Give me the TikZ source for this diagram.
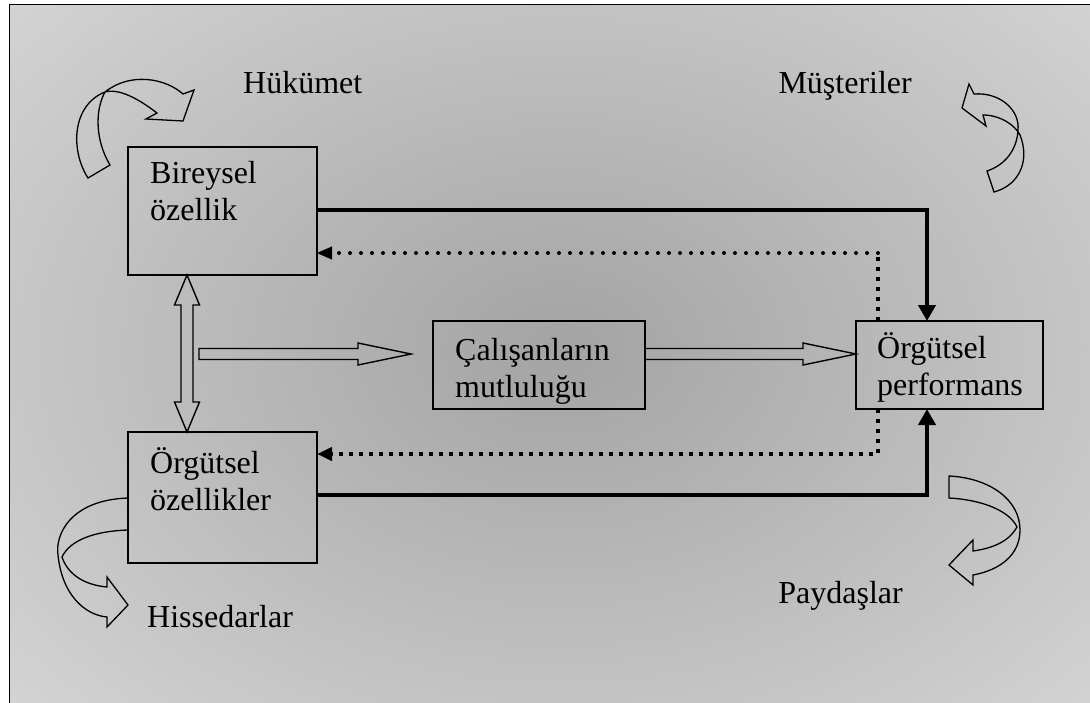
\documentclass[tikz,border=0pt]{standalone}
\usepackage{fontspec}
\setmainfont{Liberation Serif}
\usetikzlibrary{arrows.meta,calc}
\definecolor{zemin}{RGB}{218,218,218}
\definecolor{orta}{RGB}{163,163,163}
\tikzset{
  kutu/.style={draw, line width=1.8pt, inner sep=0pt, outer sep=0pt},
  yazi/.style={font=\fontsize{32}{37}\selectfont, inner sep=0pt, anchor=base west, align=left},
  kalin/.style={line width=4.5pt, -{Triangle[length=16pt,width=17pt]}},
  yuvarlak/.style={line width=4pt, line cap=round, dash pattern=on 0pt off 11pt},
  kare/.style={line width=4pt, dash pattern=on 4pt off 6pt},
  ucu/.style={-{Triangle[length=15pt,width=13pt]}},
  oklu/.style={draw, line width=1.4pt, line join=miter},
  egri/.style={draw, line width=1.3pt, line join=miter}
}
\begin{document}
\begin{tikzpicture}[x=1pt,y=-1pt]
\useasboundingbox (0,0) rectangle (1090,702);
\fill[white] (0,0) rectangle (1090,702);
\begin{scope}
  \clip (9.5,4.5) rectangle (1095,710);
  \fill[zemin] (9.5,4.5) rectangle (1095,710);
  \shade[inner color=orta, outer color=zemin] (-280,-250) rectangle (1400,950);
\end{scope}
\draw[line width=1.5pt] (9.5,710) -- (9.5,4.5) -- (1095,4.5);

% kutular
\node[kutu, minimum width=189, minimum height=128] (bir) at (222.5,211) {};
\node[kutu, minimum width=189, minimum height=131] (org) at (222.5,497.5) {};
\node[kutu, minimum width=212, minimum height=88] (cal) at (539,365) {};
\node[kutu, minimum width=187, minimum height=88] (perf) at (949.5,365) {};

\node[yazi] (birt) at (150,220) {Bireysel\\özellik};
\node[yazi] (orgt) at (150,510) {Örgütsel\\özellikler};
\node[yazi] (calt) at (455,397) {Çalışanların\\mutluluğu};
\begin{scope}
  \clip (perf.south west) rectangle (perf.north east);
  \node[yazi] (perft) at (877,395) {Örgütsel\\performans};
\end{scope}

\node[yazi] (huk) at (243,93) {Hükümet};
\node[yazi, anchor=base east] (mus) at (912,93) {Müşteriler};
\node[yazi] (his) at (147,627) {Hissedarlar};
\node[yazi, anchor=base east] (pay) at (903,603) {Paydaşlar};

% kalin oklar
\draw[kalin] ($(bir.east)+(0,-1)$) -| ($(perf.north)+(-22.5,0)$);
\draw[kalin] ($(org.east)+(0,-2.5)$) -| ($(perf.south)+(-22.5,0)$);

% noktali oklar
\coordinate (k1) at ($(perf.north)+(-71.5,-68)$);
\draw[kare] ($(perf.north)+(-71.5,0)$) -- (k1);
\draw[yuvarlak] (k1) -- ($(bir.east)+(12,42)$);
\draw[ucu, line width=0.1pt] ($(bir.east)+(14,42)$) -- ($(bir.east)+(0,42)$);
\draw[kare, ucu] ($(perf.south)+(-71.5,0)$) |- ($(org.east)+(0,-43.5)$);

% bos oklar
\coordinate (d1) at ($(bir.south west)+(59,0)$);
\coordinate (d2) at ($(org.north west)+(59,0)$);
\draw[oklu] (d1) -- ++(12.5,30) -- ++(-6.5,0) -- ($(d2)+(6,-30)$) -- ++(6.5,0) -- (d2)
  -- ++(-12.5,-30) -- ++(6.5,0) -- ($(d1)+(-6,30)$) -- ++(-6.5,0) -- cycle;
\coordinate (y1) at (199,354);
\coordinate (y2) at ($(cal.west)+(-22,-11)$);
\draw[oklu] ($(y1)+(0,-5.5)$) -- ($(y2)+(-53,-5.5)$) -- ++(0,-5.5) -- (y2)
  -- ($(y2)+(-53,11)$) -- ++(0,-5.5) -- ($(y1)+(0,5.5)$) -- cycle;
\draw[oklu] ($(cal.east)+(0,-16.5)$) -- ($(perf.west)+(-53,-16.5)$) -- ++(0,-5.5)
  -- ($(perf.west)+(0,-11)$) -- ($(perf.west)+(-53,0)$) -- ++(0,-5.5) -- ($(cal.east)+(0,-5.5)$);

% egri oklar
\draw[egri] (88,178) .. controls (70,150) and (72,105) .. (105,92) .. controls (130,72) and (165,78) .. (183,94)
  -- (194,90) -- (183,121) -- (146,119) -- (157,113)
  .. controls (140,100) and (120,88) .. (105,92) .. controls (95,110) and (95,140) .. (110,165) -- cycle;
\draw[egri] (974,94) .. controls (1000,92) and (1020,110) .. (1018,130) .. controls (1017,150) and (1005,165) .. (987,171)
  -- (994,192) .. controls (1020,185) and (1030,160) .. (1020,135) .. controls (1015,125) and (1000,115) .. (983,115)
  -- (986,126) -- (962,108) -- (969,84) -- cycle;
\draw[egri] (128,498) .. controls (70,500) and (55,535) .. (58,555) .. controls (62,595) and (85,615) .. (107,617)
  -- (107,627) -- (128,605) -- (107,577) -- (107,587)
  .. controls (85,585) and (68,575) .. (62,557) .. controls (70,540) and (95,531) .. (128,530);
\draw[egri] (949,476) .. controls (990,478) and (1020,500) .. (1020,530) .. controls (1020,555) and (1000,570) .. (973,575)
  -- (973,585) -- (949,565) -- (973,540) -- (973,551)
  .. controls (995,548) and (1010,540) .. (1017,527) .. controls (1010,512) and (985,500) .. (949,498) -- cycle;
\end{tikzpicture}
\end{document}
